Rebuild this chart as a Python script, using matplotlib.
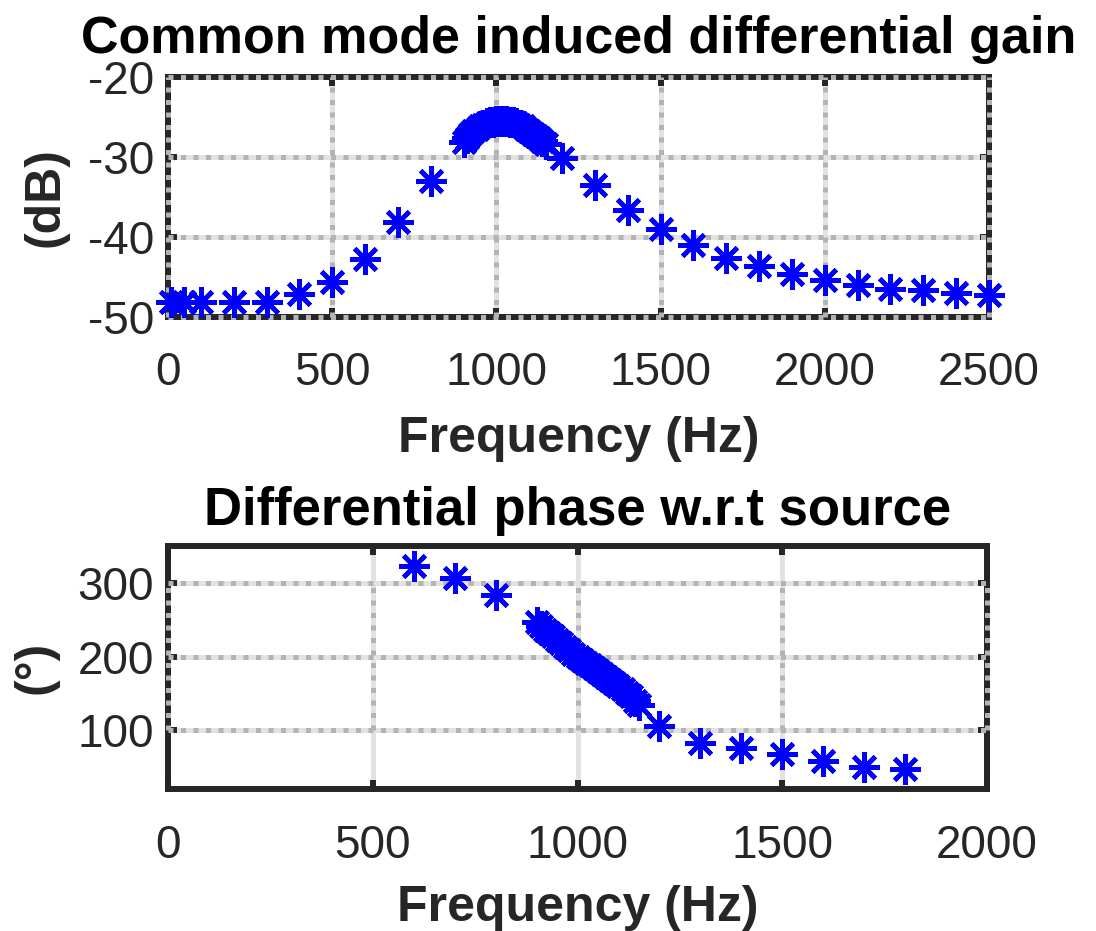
#!/usr/bin/env python
'''
plot.py: common mode induced differential gain and phase vs frequency
'''

import matplotlib
matplotlib.use("Agg")
import matplotlib.pyplot as plt

# ---- data ----
gain_freq = [10, 50, 100, 200, 300, 400, 500, 600, 700, 800,
             900, 910, 920, 930, 940, 950, 960, 970, 980, 990,
             1000, 1010, 1020, 1030, 1040, 1050, 1060, 1070, 1080, 1090,
             1100, 1110, 1120, 1130, 1140, 1150,
             1200, 1300, 1400, 1500, 1600, 1700, 1800, 1900, 2000,
             2100, 2200, 2300, 2400, 2500]
gain_db = [-48.2, -48.2, -48.2, -48.2, -48.2, -47.2, -45.7, -42.8, -38.2, -33.0,
           -28.1, -27.6, -27.2, -26.8, -26.5, -26.2, -26.0, -25.8, -25.7, -25.6,
           -25.5, -25.5, -25.5, -25.5, -25.6, -25.7, -25.8, -26.0, -26.2, -26.5,
           -26.8, -27.1, -27.4, -27.7, -28.0, -28.4,
           -30.1, -33.5, -36.6, -39.0, -41.0, -42.6, -43.6, -44.7, -45.4,
           -46.0, -46.5, -46.7, -47.0, -47.3]

phase_freq = [600, 700, 800,
              900, 910, 920, 930, 940, 950, 960, 970, 980, 990,
              1000, 1010, 1020, 1030, 1040, 1050, 1060, 1070, 1080, 1090,
              1100, 1110, 1120, 1130, 1140, 1150,
              1200, 1300, 1400, 1500, 1600, 1700, 1800]
phase_deg = [323.6, 306.8, 284.0,
             247.6, 242.0, 237.0, 232.0, 228.0, 223.0, 218.0, 213.0, 209.0, 204.0,
             200.0, 196.0, 192.0, 188.0, 184.0, 180.0, 176.0, 172.0, 168.0, 164.0,
             160.0, 156.0, 151.0, 146.0, 140.0, 134.0,
             105.3, 82.5, 75.0, 66.7, 57.6, 49.0, 46.2]

gain_xticks = [0, 500, 1000, 1500, 2000, 2500]
gain_yticks = [-50, -40, -30, -20]
phase_xticks = [0, 500, 1000, 1500, 2000]
phase_yticks = [100, 200, 300]

TEXTCOL = '#262626'
BAND = '#e2e2e2'
DOTS = '#b3b3b3'


def matlab_grid(ax, xticks, yticks, vdot_range=None):
    """Light solid band with dotted darker overlay, MATLAB export look."""
    ylo, yhi = ax.get_ylim()
    for y in yticks:
        ax.axhline(y, color=BAND, lw=3.6, zorder=1, clip_on=False)
        ax.axhline(y, color=DOTS, lw=3.6, ls=(0, (1.0, 1.5)), zorder=3,
                   clip_on=False, dash_capstyle='butt')
    for x in xticks:
        ax.axvline(x, color=BAND, lw=3.6, zorder=1, clip_on=False)
        if vdot_range is None:
            a, b = 0.0, 1.0
        else:
            a = (vdot_range[0] - ylo) / (yhi - ylo)
            b = (vdot_range[1] - ylo) / (yhi - ylo)
        ax.axvline(x, ymin=a, ymax=b, color=DOTS, lw=3.6, ls=(0, (1.0, 1.5)),
                   zorder=3, clip_on=False, dash_capstyle='butt')


def style_axes(ax):
    for sp in ax.spines.values():
        sp.set_color(TEXTCOL)
        sp.set_linewidth(4.3)
        sp.set_zorder(2)
    ax.tick_params(direction='in', length=6.5, width=4.3, color=TEXTCOL,
                   labelcolor=TEXTCOL, labelsize=33, top=True, right=True)
    ax.tick_params(axis='x', pad=25)
    ax.tick_params(axis='y', pad=10)


def main():
    plt.rcParams['font.family'] = ['Liberation Sans', 'DejaVu Sans']
    plt.rcParams['axes.unicode_minus'] = False

    fig = plt.figure(figsize=(10.96, 9.31), dpi=100)

    # ---------- gain ----------
    ax1 = fig.add_axes([168 / 1096, 1 - 316.7 / 931, (989 - 168) / 1096, (316.7 - 76.7) / 931])
    ax1.set_xlim(0, 2500)
    ax1.set_ylim(-50, -20)
    ax1.set_xticks(gain_xticks)
    ax1.set_yticks(gain_yticks)
    matlab_grid(ax1, gain_xticks, gain_yticks)
    ax1.plot(gain_freq, gain_db, ls='none', marker=(8, 2, 0), ms=22, mew=3.4,
             color='#0000ff', zorder=5, clip_on=False)
    style_axes(ax1)
    ax1.set_title('Common mode induced differential gain', fontsize=37.5,
                  fontweight='bold', color='black', pad=17)
    ax1.set_xlabel('Frequency (Hz)', fontsize=36, fontweight='bold', color=TEXTCOL, labelpad=15)
    ax1.set_ylabel('(dB)', fontsize=36, fontweight='bold', color=TEXTCOL, labelpad=14)

    # ---------- phase ----------
    ax2 = fig.add_axes([168 / 1096, 1 - 789.3 / 931, (987 - 168) / 1096, (789.3 - 546) / 931])
    ax2.set_xlim(0, 2000)
    ax2.set_ylim(19, 351)
    ax2.set_xticks(phase_xticks)
    ax2.set_yticks(phase_yticks)
    matlab_grid(ax2, phase_xticks, phase_yticks, vdot_range=(100, 300))
    ax2.plot(phase_freq, phase_deg, ls='none', marker=(8, 2, 0), ms=22, mew=3.4,
             color='#0000ff', zorder=5, clip_on=False)
    style_axes(ax2)
    ax2.set_title('Differential phase w.r.t source', fontsize=38,
                  fontweight='bold', color='black', pad=15)
    ax2.set_xlabel('Frequency (Hz)', fontsize=36, fontweight='bold', color=TEXTCOL, labelpad=12)
    ax2.set_ylabel('(°)', fontsize=36, fontweight='bold', color=TEXTCOL, labelpad=14)

    fig.savefig('out.png', dpi=100)
    plt.close(fig)


if __name__ == '__main__':
    main()
